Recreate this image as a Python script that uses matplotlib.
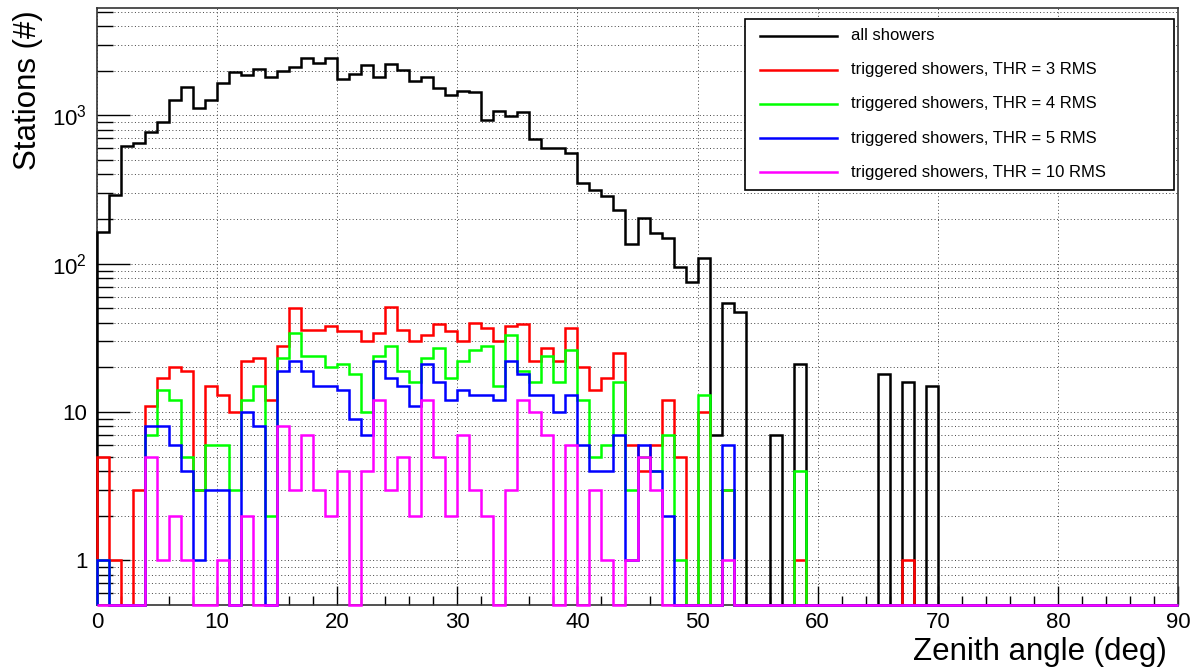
import numpy as np
import matplotlib
matplotlib.use('Agg')
import matplotlib.pyplot as plt
from matplotlib.patches import Rectangle
from matplotlib.ticker import FixedLocator, FixedFormatter, NullFormatter, MultipleLocator

plt.rcParams['font.family'] = 'Liberation Sans'

# zenith angle bins, 1 deg wide
edges = np.arange(0, 91, 1)

all_showers = [163, 290, 619, 651, 773, 902, 1264, 1555, 1122, 1264,
               1645, 1963, 1862, 2046, 1806, 2005, 2134, 2438, 2255, 2438,
               1771, 1903, 2178, 1806, 2212, 2014, 1718, 1806, 1530, 1366,
               1469, 1438, 937, 1066, 991, 1049, 698, 607, 607, 557,
               348, 313, 285, 232, 135, 202, 160, 148, 95, 75,
               110, 7, 54, 47, 0, 0, 7, 0, 21, 0,
               0, 0, 0, 0, 0, 18, 0, 16, 0, 15,
               0, 0, 0, 0, 0, 0, 0, 0, 0, 0,
               0, 0, 0, 0, 0, 0, 0, 0, 0, 0]

thr3 = [5, 1, 0, 3, 11, 17, 20, 19, 3, 15,
        13, 10, 22, 23, 12, 28, 50, 36, 36, 38,
        35, 35, 30, 34, 51, 36, 30, 33, 39, 35,
        30, 40, 37, 30, 38, 39, 22, 27, 22, 37,
        20, 14, 17, 25, 6, 4, 6, 12, 5, 0,
        10, 0, 3, 0, 0, 0, 0, 0, 1, 0,
        0, 0, 0, 0, 0, 0, 0, 1, 0, 0,
        0, 0, 0, 0, 0, 0, 0, 0, 0, 0,
        0, 0, 0, 0, 0, 0, 0, 0, 0, 0]

thr4 = [1, 0, 0, 0, 7, 14, 12, 5, 3, 6,
        6, 3, 12, 15, 2, 23, 34, 24, 24, 20,
        21, 18, 10, 24, 28, 19, 16, 23, 27, 17,
        22, 26, 28, 15, 33, 19, 16, 24, 16, 26,
        12, 5, 6, 16, 3, 5, 4, 7, 1, 0,
        13, 0, 3, 0, 0, 0, 0, 0, 4, 0,
        0, 0, 0, 0, 0, 0, 0, 0, 0, 0,
        0, 0, 0, 0, 0, 0, 0, 0, 0, 0,
        0, 0, 0, 0, 0, 0, 0, 0, 0, 0]

thr5 = [1, 0, 0, 0, 8, 8, 6, 4, 1, 3,
        3, 0, 10, 8, 0, 19, 22, 19, 15, 15,
        14, 9, 7, 22, 17, 15, 11, 21, 16, 12,
        14, 13, 13, 12, 22, 18, 13, 13, 10, 13,
        6, 4, 4, 7, 1, 6, 4, 2, 0, 0,
        0, 0, 6, 0, 0, 0, 0, 0, 0, 0,
        0, 0, 0, 0, 0, 0, 0, 0, 0, 0,
        0, 0, 0, 0, 0, 0, 0, 0, 0, 0,
        0, 0, 0, 0, 0, 0, 0, 0, 0, 0]

thr10 = [0, 0, 0, 0, 5, 1, 2, 1, 0, 0,
         1, 0, 2, 0, 0, 8, 3, 7, 3, 2,
         4, 0, 4, 12, 3, 5, 2, 12, 5, 2,
         7, 3, 2, 0, 3, 12, 10, 7, 0, 6,
         0, 3, 1, 0, 1, 5, 3, 0, 0, 0,
         0, 0, 1, 0, 0, 0, 0, 0, 0, 0,
         0, 0, 0, 0, 0, 0, 0, 0, 0, 0,
         0, 0, 0, 0, 0, 0, 0, 0, 0, 0,
         0, 0, 0, 0, 0, 0, 0, 0, 0, 0]

labels = ['all showers',
          'triggered showers, THR = 3 RMS',
          'triggered showers, THR = 4 RMS',
          'triggered showers, THR = 5 RMS',
          'triggered showers, THR = 10 RMS']
colors = ['black', '#ff0000', '#00ff00', '#0000ff', '#ff00ff']
hists = [all_showers, thr3, thr4, thr5, thr10]

ymin, ymax = 0.5, 5300

fig = plt.figure(figsize=(11.91, 6.69), dpi=100)
ax = fig.add_axes([97 / 1191, 64 / 669, 1081 / 1191, 597 / 669])
ax.set_yscale('log')
ax.set_xlim(0, 90)
ax.set_ylim(ymin, ymax)

# empty bins are drawn down to the frame bottom
for vals, col in zip(hists, colors):
    v = np.array(vals, dtype=float)
    v[v <= 0] = ymin
    ax.stairs(v, edges, baseline=ymin, color=col, lw=1.8, zorder=3, clip_on=False)

# axes, ticks and grid
ax.xaxis.set_major_locator(MultipleLocator(10))
ax.xaxis.set_minor_locator(MultipleLocator(2))
ymaj = [1, 10, 100, 1000]
ymin_ticks = [m * 10.0 ** e for e in range(-1, 4) for m in range(2, 10)]
ymin_ticks = [t for t in ymin_ticks if ymin <= t <= ymax]
ax.yaxis.set_major_locator(FixedLocator(ymaj))
ax.yaxis.set_major_formatter(FixedFormatter(['1', '10', r'$\mathregular{10^{2}}$', r'$\mathregular{10^{3}}$']))
ax.yaxis.set_minor_locator(FixedLocator(ymin_ticks))
ax.yaxis.set_minor_formatter(NullFormatter())

ax.tick_params(axis='x', which='major', direction='in', length=14, width=1, labelsize=16, pad=5, top=False)
ax.tick_params(axis='x', which='minor', direction='in', length=6.5, width=1, top=False)
ax.tick_params(axis='y', which='major', direction='in', length=24, width=1, labelsize=16, pad=7, right=False)
ax.tick_params(axis='y', which='minor', direction='in', length=11.5, width=1, right=False)

grid_kw = dict(color='#444444', lw=0.7, linestyle=(0, (1, 2.5)))
ax.grid(True, axis='x', which='major', **grid_kw)
ax.grid(True, axis='y', which='both', **grid_kw)
ax.set_axisbelow(True)

for s in ax.spines.values():
    s.set_color('#333333')
    s.set_linewidth(1.2)

fig.text(28 / 1191, 1 - 10 / 669, 'Stations (#)', rotation=90, ha='center', va='top', fontsize=22.5)
fig.text(1167 / 1191, 1 - 652 / 669, 'Zenith angle (deg)', ha='right', va='center', fontsize=22.5)


def to_ax(px, py):
    return (px - 97) / 1081, (605 - py) / 597


# legend box
x0, y0 = to_ax(745, 190)
x1, y1 = to_ax(1174, 19)
ax.add_patch(Rectangle((x0, y0), x1 - x0, y1 - y0, transform=ax.transAxes,
                       facecolor='white', edgecolor='black', lw=1.2, zorder=10, clip_on=False))
for i, (lab, col) in enumerate(zip(labels, colors)):
    py = 35.5 + 34.2 * i
    lx0, ly = to_ax(760, py)
    lx1, _ = to_ax(837, py)
    tx, _ = to_ax(851, py)
    ax.plot([lx0, lx1], [ly, ly], color=col, lw=1.8, transform=ax.transAxes, zorder=11, clip_on=False)
    ax.text(tx, ly, lab, transform=ax.transAxes, ha='left', va='center', fontsize=12, zorder=11)

fig.savefig('out.png', dpi=100)
